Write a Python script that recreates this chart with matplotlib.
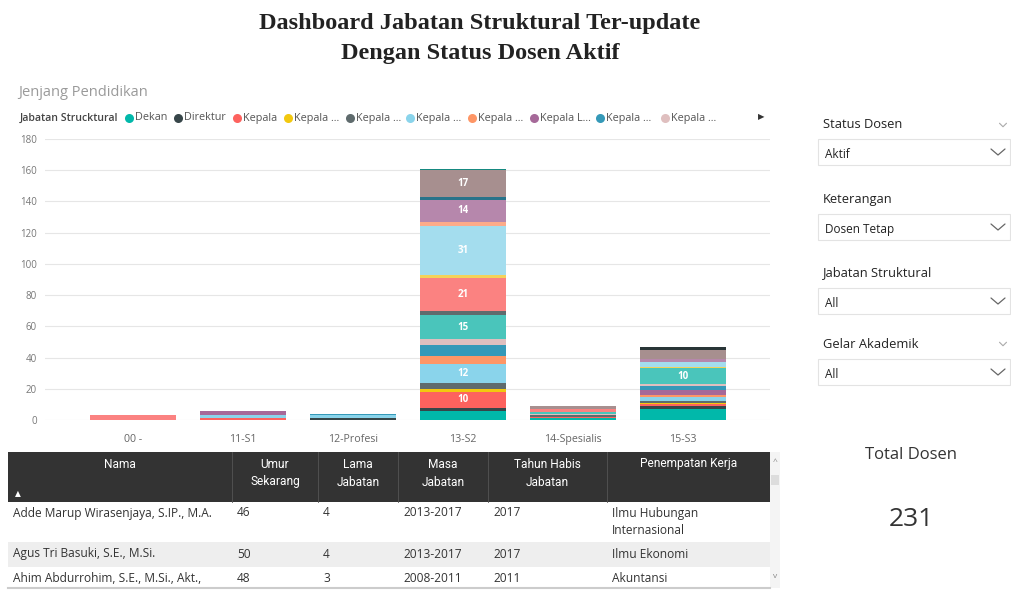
import matplotlib
matplotlib.use("Agg")
import matplotlib.pyplot as plt
from matplotlib.patches import Rectangle
import numpy as np

plt.rcParams['font.family'] = ['Open Sans', 'DejaVu Sans']

# ---------------- data ----------------
title_lines = ["Dashboard Jabatan Struktural Ter-update", "Dengan Status Dosen Aktif"]
chart_title = "Jenjang Pendidikan"
legend_title = "Jabatan Strucktural"
categories = ["00 -", "11-S1", "12-Profesi", "13-S2", "14-Spesialis", "15-S3"]
y_ticks = [0, 20, 40, 60, 80, 100, 120, 140, 160, 180]

series_names = ["Dekan", "Direktur", "Kepala", "Kepala ...", "Kepala ...", "Kepala ...",
                "Kepala ...", "Kepala L...", "Kepala ...", "Kepala ...",
                "Kepala ...", "Kepala ...", "Kepala ...", "Kepala ...", "Kepala ...",
                "Kepala ...", "Kepala ...", "Kepala ...", "Kepala ...", "Kepala ...",
                "Kepala ...", "Kepala ..."]
series_colors = ["#01B8AA", "#374649", "#FD625E", "#F2C80F", "#5F6B6D", "#8AD4EB",
                 "#FE9666", "#A66999", "#3599B8", "#DFBFBF", "#4AC5BB", "#5F6B6D",
                 "#FB8281", "#F4D25A", "#7F898A", "#A4DDEE", "#FDAB89", "#B687AC",
                 "#28738A", "#A78F8F", "#168980", "#293537"]
# values per series across categories
series_values = [
    [0, 0, 0, 6, 1, 7],
    [0, 0, 1, 2, 0, 2],
    [0, 1, 0, 10, 1, 1],
    [0, 0, 0, 2, 0, 1],
    [0, 0, 0, 4, 1, 1],
    [0, 2, 2, 12, 0, 3],
    [0, 0, 0, 5, 0, 1],
    [0, 3, 0, 0, 0, 3],
    [0, 0, 1, 7, 0, 3],
    [0, 0, 0, 4, 1, 1],
    [0, 0, 0, 15, 1, 10],
    [0, 0, 0, 3, 0, 0],
    [3, 0, 0, 21, 2, 0],
    [0, 0, 0, 2, 0, 1],
    [0, 0, 0, 0, 0, 0],
    [0, 0, 0, 31, 0, 3],
    [0, 0, 0, 3, 0, 0],
    [0, 0, 0, 14, 0, 2],
    [0, 0, 0, 2, 0, 0],
    [0, 0, 0, 17, 2, 6],
    [0, 0, 0, 1, 0, 0],
    [0, 0, 0, 0, 0, 2],
]
legend_count = 10

table_columns = ["Nama", "Umur\nSekarang", "Lama\nJabatan", "Masa\nJabatan",
                 "Tahun Habis\nJabatan", "Penempatan Kerja"]
table_rows = [
    ["Adde Marup Wirasenjaya, S.IP., M.A.", "46", "4", "2013-2017", "2017", "Ilmu Hubungan\nInternasional"],
    ["Agus Tri Basuki, S.E., M.Si.", "50", "4", "2013-2017", "2017", "Ilmu Ekonomi"],
    ["Ahim Abdurrohim, S.E., M.Si., Akt.,", "48", "3", "2008-2011", "2011", "Akuntansi"],
]

slicer_titles = ["Status Dosen", "Keterangan", "Jabatan Struktural", "Gelar Akademik"]
slicer_values = ["Aktif", "Dosen Tetap", "All", "All"]
card_title = "Total Dosen"
card_value = "231"

# ---------------- figure ----------------
W, H = 1011, 590
fig = plt.figure(figsize=(W / 100, H / 100), dpi=100)
fig.patch.set_facecolor("white")

ui = fig.add_axes([0, 0, 1, 1])
ui.set_xlim(0, W)
ui.set_ylim(H, 0)
ui.axis("off")

# Title
ui.text(480, 23, title_lines[0], ha="center", va="center", fontsize=17.5,
        fontweight="bold", family="Liberation Serif", color="#222222")
ui.text(480, 53, title_lines[1], ha="center", va="center", fontsize=17.5,
        fontweight="bold", family="Liberation Serif", color="#222222")

# chart title
ui.text(18, 92, chart_title, ha="left", va="center", fontsize=10.5, color="#9a9a9a")

# legend
ui.text(20, 118, legend_title, ha="left", va="center", fontsize=7.6, color="#444444",
        fontweight="semibold")
leg_dot_x = [129, 178, 237, 288, 350, 410, 472, 534, 600, 665]
for i in range(legend_count):
    ui.plot(leg_dot_x[i], 118, "o", ms=6.5, color=series_colors[i], mec="none")
    ui.text(leg_dot_x[i] + 6, 118, series_names[i], ha="left", va="center",
            fontsize=7.8, color="#555555")
ui.text(761, 117, "\u25B6", ha="center", va="center", fontsize=6, color="#333333",
        family="DejaVu Sans")

# ---------------- stacked bar chart ----------------
ax_left, ax_right, ax_top, ax_bottom = 45, 770, 139, 420
ax = fig.add_axes([ax_left / W, 1 - ax_bottom / H, (ax_right - ax_left) / W,
                   (ax_bottom - ax_top) / H])
x = np.arange(len(categories))
bottom = np.zeros(len(categories))
for name, color, vals in zip(series_names, series_colors, series_values):
    v = np.array(vals, dtype=float)
    ax.bar(x, v, bottom=bottom, width=0.78, color=color, linewidth=0, zorder=3)
    for xi, vi, bi in zip(x, v, bottom):
        if vi >= 10:
            ax.text(xi, bi + vi / 2, f"{int(vi)}", ha="center", va="center",
                    color="white", fontsize=7, fontweight="bold", zorder=4)
    bottom += v

ax.set_xlim(-0.8, 5.79)
ax.set_ylim(0, 180)
ax.set_yticks(y_ticks)
ax.set_xticks(x)
ax.set_xticklabels(categories)
for s in ax.spines.values():
    s.set_visible(False)
ax.grid(axis="y", color="#e6e6e6", linewidth=0.8, zorder=0)
ax.tick_params(axis="y", length=0, pad=6, labelsize=7, labelcolor="#777777")
ax.tick_params(axis="x", length=0, pad=10, labelsize=7.7, labelcolor="#666666")
ax.set_facecolor("none")

# ---------------- table ----------------
col_x = [8, 232, 318, 398, 488, 607, 770]
ui.add_patch(Rectangle((8, 452), 762, 50, facecolor="#333333", edgecolor="none"))
for i, col in enumerate(table_columns):
    cx = (col_x[i] + col_x[i + 1]) / 2
    for k, line in enumerate(col.split("\n")):
        ui.text(cx, 464 + 18 * k, line, ha="center", va="center", fontsize=8.6,
                color="white", family=["Roboto", "DejaVu Sans"])
    if i > 0:
        ui.plot([col_x[i], col_x[i]], [452, 502], color="#555555", lw=0.6)
ui.text(18, 494, "\u25B2", ha="center", va="center", fontsize=5.5, color="white",
        family="DejaVu Sans")

row_tops = [502, 542, 567]
row_heights = [40, 25, 23]
row_colors = ["white", "#eeeeee", "white"]
row_first_line = [513, 554, 578]
for r, row in enumerate(table_rows):
    ui.add_patch(Rectangle((8, row_tops[r]), 762, row_heights[r],
                           facecolor=row_colors[r], edgecolor="none"))
    for i, cell in enumerate(row):
        for k, line in enumerate(cell.split("\n")):
            ui.text(col_x[i] + 5, row_first_line[r] + 18 * k, line, ha="left",
                    va="center", fontsize=8.6, color="#333333")

# scrollbar
ui.add_patch(Rectangle((770, 452), 10, 136, facecolor="#f4f4f4", edgecolor="none"))
ui.add_patch(Rectangle((771, 475), 8, 10, facecolor="#dddddd", edgecolor="none"))
ui.text(775, 462, "^", ha="center", va="center", fontsize=6, color="#888888")
ui.text(775, 576, "v", ha="center", va="center", fontsize=6, color="#888888")
ui.plot([8, 770], [588, 588], color="#cccccc", lw=1.5)

# ---------------- slicers ----------------
slicer_title_y = [125, 200, 273, 344]
slicer_box_y = [139, 214, 288, 359]
slicer_small_chev = [True, False, False, True]


def chevron(cx, cy, w, h, color, lw):
    ui.plot([cx - w / 2, cx, cx + w / 2], [cy - h / 2, cy + h / 2, cy - h / 2],
            color=color, lw=lw, solid_capstyle="round")


for t, v, ty, by, sm in zip(slicer_titles, slicer_values, slicer_title_y,
                             slicer_box_y, slicer_small_chev):
    ui.text(823, ty, t, ha="left", va="center", fontsize=9.3, color="#222222")
    if sm:
        chevron(1003, ty, 7, 3.5, "#aaaaaa", 0.8)
    ui.add_patch(Rectangle((818, by), 192, 26, facecolor="white",
                           edgecolor="#e3e3e3", lw=0.8))
    ui.text(825, by + 15.5, v, ha="left", va="center", fontsize=8.5, color="#222222")
    chevron(998, by + 13, 14, 6, "#666666", 0.9)

# ---------------- card ----------------
ui.text(911, 455, card_title, ha="center", va="center", fontsize=12, color="#333333")
ui.text(911, 520, card_value, ha="center", va="center", fontsize=19, color="#333333")

fig.savefig("out.png", dpi=100, facecolor="white")
